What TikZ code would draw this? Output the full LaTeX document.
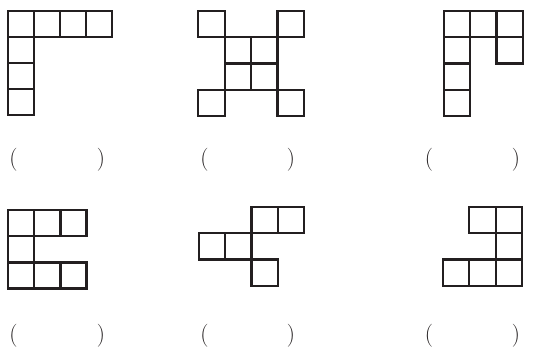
\documentclass[tikz,border=0pt]{standalone}
\usepackage{tikz}
\definecolor{ink}{HTML}{231F20}
\begin{document}
\begin{tikzpicture}[x=1pt,y=-1pt,
  cell/.style={draw=ink,line width=2.3pt,line join=miter},
  paren/.style={inner sep=0pt,text=ink,font=\fontsize{23}{26}\selectfont}]
\useasboundingbox (0,0) rectangle (540,349);
% figure 1
\begin{scope}[shift={(8,11)},x=26pt,y=-26pt]
  \foreach \c/\r in {0/0,1/0,2/0,3/0,0/1,0/2,0/3}
    \draw[cell] (\c,\r) rectangle ++(1,1);
\end{scope}
% figure 2
\begin{scope}[shift={(198.3,11)},x=26.4pt,y=-26.25pt]
  \foreach \c/\r in {0/0,3/0,1/1,2/1,1/2,2/2,0/3,3/3}
    \draw[cell] (\c,\r) rectangle ++(1,1);
\end{scope}
% figure 3
\begin{scope}[shift={(444,11)},x=26.3pt,y=-26.25pt]
  \foreach \c/\r in {0/0,1/0,2/0,0/1,2/1,0/2,0/3}
    \draw[cell] (\c,\r) rectangle ++(1,1);
\end{scope}
% figure 4
\begin{scope}[shift={(8,210)},x=26.2pt,y=-26.2pt]
  \foreach \c/\r in {0/0,1/0,2/0,0/1,0/2,1/2,2/2}
    \draw[cell] (\c,\r) rectangle ++(1,1);
\end{scope}
% figure 5
\begin{scope}[shift={(198.7,206.7)},x=26.4pt,y=-26.4pt]
  \foreach \c/\r in {2/0,3/0,0/1,1/1,2/2}
    \draw[cell] (\c,\r) rectangle ++(1,1);
\end{scope}
% figure 6
\begin{scope}[shift={(442.7,206.7)},x=26.5pt,y=-26.4pt]
  \foreach \c/\r in {1/0,2/0,2/1,0/2,1/2,2/2}
    \draw[cell] (\c,\r) rectangle ++(1,1);
\end{scope}
% answer brackets
\node[paren] (l1) at (13.5,160) {(};
\node[paren] (r1) at (101,160) {)};
\node[paren] (l2) at (204.5,160) {(};
\node[paren] (r2) at (291,160) {)};
\node[paren] (l3) at (429,160) {(};
\node[paren] (r3) at (516,160) {)};
\node[paren] (l4) at (13.5,336) {(};
\node[paren] (r4) at (101,336) {)};
\node[paren] (l5) at (204.5,336) {(};
\node[paren] (r5) at (291,336) {)};
\node[paren] (l6) at (429,336) {(};
\node[paren] (r6) at (516,336) {)};
\end{tikzpicture}
\end{document}
